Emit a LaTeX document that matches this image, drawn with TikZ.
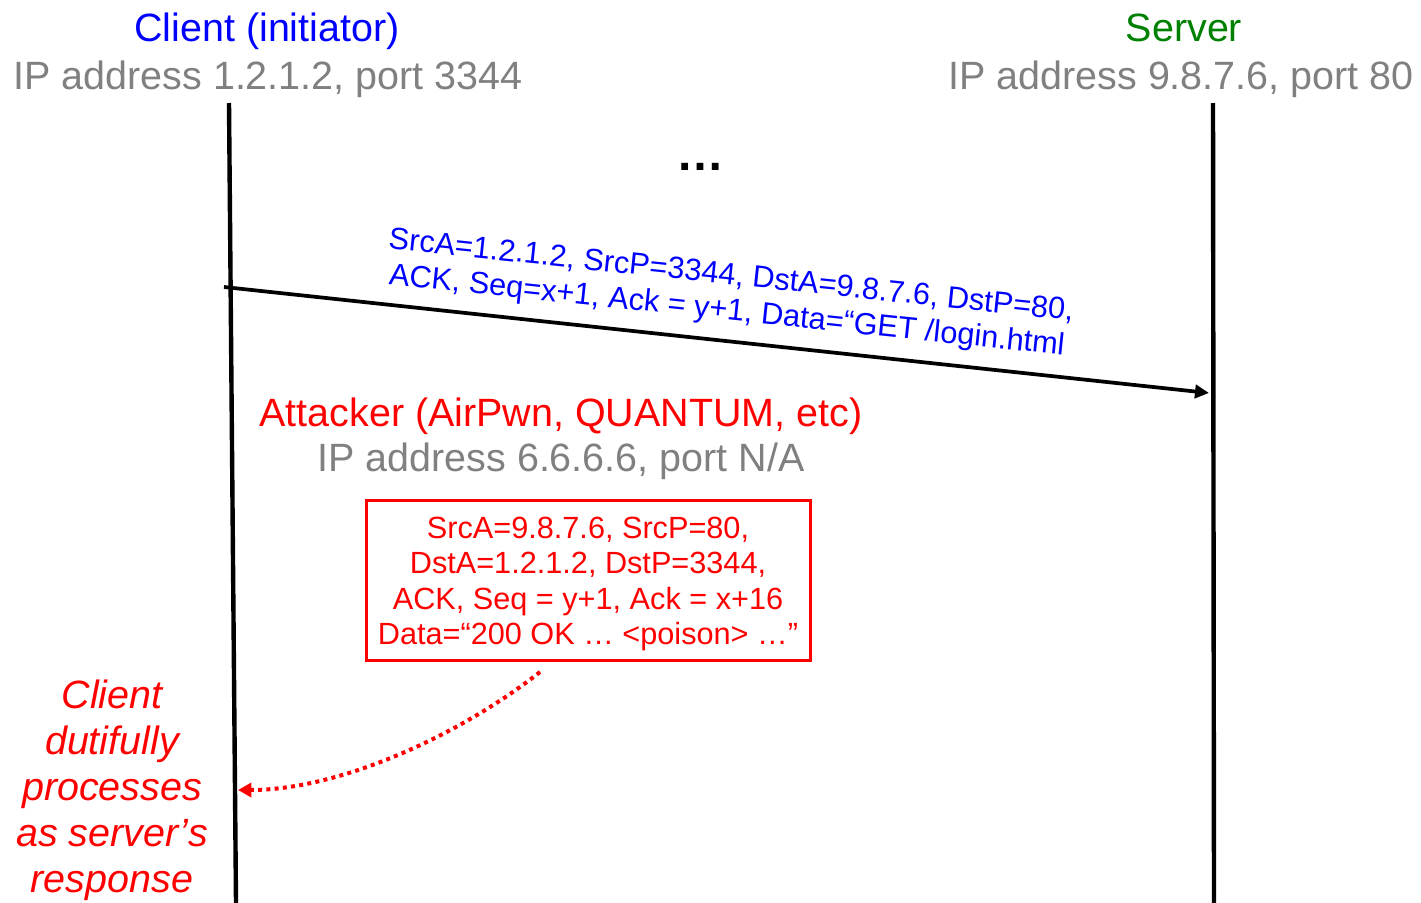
\documentclass[tikz,border=0pt]{standalone}
\usepackage{fontspec}
\setmainfont{Liberation Sans}
\usetikzlibrary{arrows.meta}
\definecolor{cblue}{RGB}{0,0,255}
\definecolor{cgreen}{RGB}{0,128,0}
\definecolor{cgray}{RGB}{128,128,128}
\definecolor{cred}{RGB}{255,0,0}
\begin{document}
\begin{tikzpicture}[x=0.75pt,y=-0.75pt,
  big/.style={font=\fontsize{29.6}{34.5}\selectfont, inner sep=0pt},
  small/.style={font=\fontsize{23}{26.5}\selectfont, inner sep=0pt},
  lifeline/.style={line width=3.3pt},
  msg/.style={line width=2.8pt,-{Triangle[length=10.5pt,width=10pt]}},
  poison/.style={cred,line width=3pt,dash pattern=on 3pt off 3.2pt,-{Triangle[length=10pt,width=10.5pt]}},
  pktbox/.style={draw=cred,line width=2.25pt,minimum width=333pt,minimum height=120pt,inner sep=0pt}]
\useasboundingbox (0,0) rectangle (1421,903);
% headers
\node[big,cblue,anchor=base] (ct) at (267,41) {Client (initiator)};
\node[big,cgray,anchor=base] (cip) at (268,89) {IP address 1.2.1.2, port 3344};
\node[big,cgreen,anchor=base] (st) at (1184,41) {Server};
\node[big,cgray,anchor=base] (sip) at (1181,89) {IP address 9.8.7.6, port 80};
% lifelines
\coordinate (c1) at (229,103); \coordinate (c2) at (236,903);
\coordinate (s1) at (1213,103); \coordinate (s2) at (1214,903);
\draw[lifeline] (c1) -- (c2);
\draw[lifeline] (s1) -- (s2);
% ellipsis
\node[font=\fontsize{36}{40}\selectfont\bfseries,inner sep=0pt,anchor=base] (dots) at (700,170) {…};
% client message
\coordinate (m1) at (224,287); \coordinate (m2) at (1209,393);
\draw[msg] (m1) -- (m2);
\node[small,font=\fontsize{23.05}{26.5}\selectfont,cblue,align=left,anchor=north west,rotate=-6] (ml) at (390,227)
  {SrcA=1.2.1.2, SrcP=3344, DstA=9.8.7.6, DstP=80,\\\hspace{3pt}ACK, Seq=x+1, Ack = y+1, Data=“GET /login.html};
% attacker
\node[big,cred,anchor=base] (at) at (561,426) {Attacker (AirPwn, QUANTUM, etc)};
\node[big,cgray,anchor=base] (aip) at (561,471) {IP address 6.6.6.6, port N/A};
\node[pktbox] (box) at (588,580) {};
\node[small,cred,align=center] (boxtext) at ([yshift=-3pt]box.center)
  {SrcA=9.8.7.6, SrcP=80,\\DstA=1.2.1.2, DstP=3344,\\ACK, Seq = y+1, Ack = x+16\\Data=“200 OK … <poison> …”};
% note
\node[big,cred,font=\fontsize{29.6}{34.5}\selectfont\itshape,align=center] (note) at (112,790)
  {Client\\dutifully\\processes\\as server’s\\response};
% poison arrow
\coordinate (p1) at (540,672); \coordinate (p2) at (238,790);
\draw[poison] (p1) .. controls (460,735) and (340,790) .. (p2);
\end{tikzpicture}
\end{document}
